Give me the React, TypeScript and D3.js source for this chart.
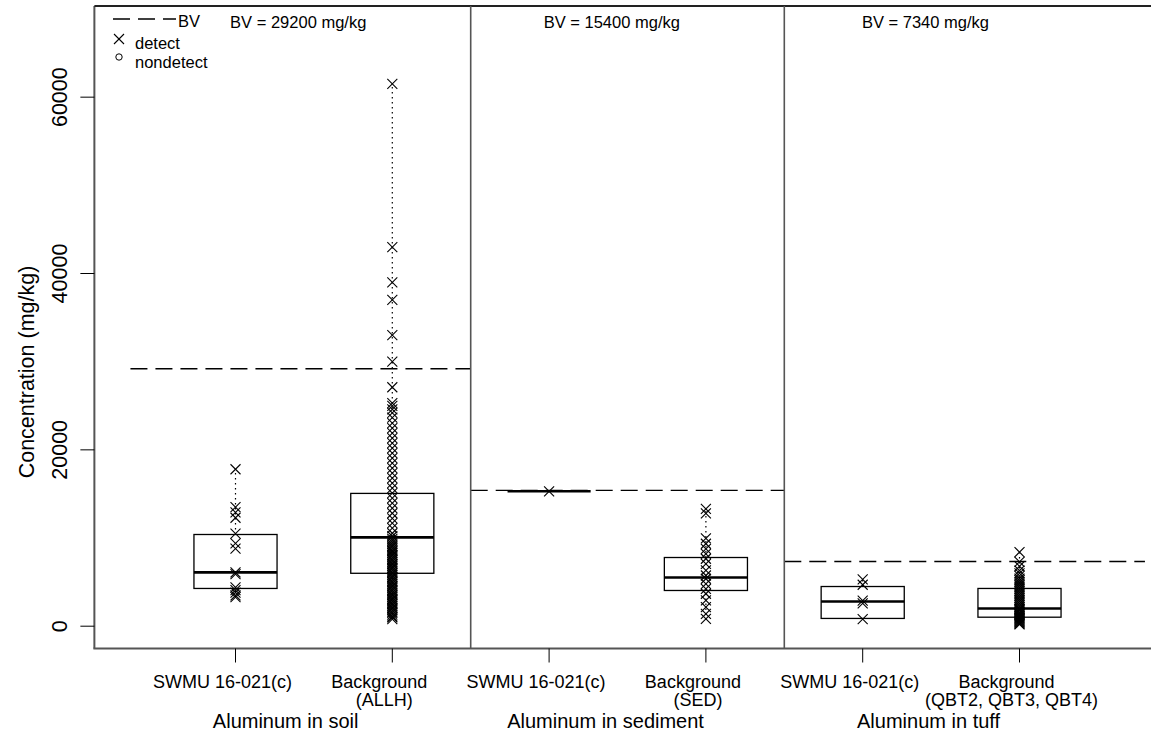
import React from "react";
import * as d3 from "d3";

const groups = ["Aluminum in soil", "Aluminum in sediment", "Aluminum in tuff"];
const bvValues = [29200, 15400, 7340];
const bvTexts = ["BV = 29200 mg/kg", "BV = 15400 mg/kg", "BV = 7340 mg/kg"];
const catLine1 = ["SWMU 16-021(c)", "Background", "SWMU 16-021(c)", "Background", "SWMU 16-021(c)", "Background"];
const catLine2 = ["", "(ALLH)", "", "(SED)", "", "(QBT2, QBT3, QBT4)"];
const yTicks = [0, 20000, 40000, 60000];

// box stats: [lower whisker, Q1, median, Q3, upper whisker]
const boxStats = [
  [3300, 4280, 6100, 10400, 17800],
  [800, 6000, 10070, 15060, 61500],
  [15300, 15300, 15300, 15300, 15300],
  [700, 4050, 5530, 7790, 13300],
  [800, 880, 2800, 4500, 5300],
  [200, 1020, 2010, 4280, 8400],
];

const soilSite = [17800, 13500, 12900, 12300, 10500, 9400, 8800, 6100, 5900, 4400, 4100, 3800, 3500, 3300];
const soilBg = [61500, 43000, 39000, 37000, 33000, 30000, 27100, 25300, 25000, 24600, 24200,
  23650, 23040, 22470, 21900, 21340, 20770, 20200, 19630, 19060, 18500, 17930, 17360, 16790, 16220,
  15660, 15090, 14520, 13950, 13380, 12810, 12240, 11680, 11110, 10540,
  10200, 9900, 9700, 9500, 9300, 9100, 9000, 8800, 8600, 8500, 8300, 8100, 8000, 7800, 7600, 7500,
  7300, 7100, 7000, 6800, 6600, 6500, 6300, 6100, 6000, 5800, 5600, 5500, 5300, 5100, 5000, 4800,
  4600, 4500, 4300, 4100, 4000, 3800, 3600, 3500, 3300, 3100, 3000, 2800, 2600, 2500, 2300, 2100,
  2000, 1800, 1600, 1500, 1300, 1100, 1000, 800];
const sedSite = [15300];
const sedBg = [13300, 12800, 9950, 9350, 8780, 8210, 7650, 7080, 6320, 5750, 5380, 4810, 4240, 3680,
  2920, 2160, 1400, 840];
const tuffSite = [5300, 4700, 2900, 2600, 800];
const tuffBg = [8400, 7300, 6800, 6300, 6000, 5700, 5400, 5200, 5000, 4800, 4600, 4400, 4200, 4000,
  3800, 3600, 3400, 3200, 3000, 2800, 2600, 2400, 2200, 2000, 1900, 1800, 1600, 1500, 1400, 1300,
  1200, 1100, 1000, 900, 800, 700, 600, 500, 400, 300, 200];
const detects = [soilSite, soilBg, sedSite, sedBg, tuffSite, tuffBg];

const FONT = "'Liberation Sans', Arial, Helvetica, sans-serif";

export default function App() {
  const W = 1151, H = 738;
  const x = d3.scaleLinear().domain([1, 6]).range([235.5, 1019.5]);
  const y = d3.scaleLinear().domain([-2530, 70340]).range([648.5, 6]);
  const left = x(0.1), top = y(70340), bottom = y(-2530), right = x(7.2);
  const half = 0.265;
  const bvSpans = [[0.33, 2.5], [2.5, 4.5], [4.5, 6.8]];
  const textPos = [1.4, 3.4, 5.4];
  const groupPos = [1.32, 3.36, 5.42];
  const X = (cx: number, cy: number, k: string) => (
    <g key={k} stroke="#000" strokeWidth={1.1}>
      <line x1={cx - 5} y1={cy - 5} x2={cx + 5} y2={cy + 5} />
      <line x1={cx - 5} y1={cy + 5} x2={cx + 5} y2={cy - 5} />
    </g>
  );
  return (
    <svg width={W} height={H} style={{ position: "absolute", left: 0, top: 0 }} fontFamily={FONT}>
      <rect x={0} y={0} width={W} height={H} fill="#fff" />
      {bvValues.map((v, i) => (
        <line key={"bv" + i} x1={x(bvSpans[i][0])} x2={x(bvSpans[i][1])} y1={y(v)} y2={y(v)}
          stroke="#000" strokeWidth={1.3} strokeDasharray="17 8" />
      ))}
      {boxStats.map((s, i) => {
        const cx = x(i + 1);
        return (
          <g key={"b" + i}>
            <line x1={cx} x2={cx} y1={y(s[3])} y2={y(s[4])} stroke="#000" strokeWidth={1.2} strokeDasharray="1.5 3.5" />
            <line x1={cx} x2={cx} y1={y(s[0])} y2={y(s[1])} stroke="#000" strokeWidth={1.2} strokeDasharray="1.5 3.5" />
            <rect x={x(i + 1 - half)} width={x(i + 1 + half) - x(i + 1 - half)} y={y(s[3])} height={Math.max(0, y(s[1]) - y(s[3]))}
              fill="none" stroke="#000" strokeWidth={1.3} />
            <line x1={x(i + 1 - half)} x2={x(i + 1 + half)} y1={y(s[2])} y2={y(s[2])} stroke="#000" strokeWidth={2.6} />
          </g>
        );
      })}
      {detects.map((arr, i) => arr.map((v, j) => X(x(i + 1), y(v), `p${i}-${j}`)))}
      <line x1={left} x2={left} y1={top} y2={bottom} stroke="#555" strokeWidth={2} />
      <line x1={left} x2={right} y1={top} y2={top} stroke="#222" strokeWidth={2} />
      <line x1={left - 1} x2={right} y1={bottom} y2={bottom} stroke="#555" strokeWidth={2} />
      {[2.5, 4.5].map((d) => (
        <line key={"d" + d} x1={x(d)} x2={x(d)} y1={top} y2={bottom} stroke="#555" strokeWidth={1.6} />
      ))}
      {yTicks.map((t) => (
        <g key={"yt" + t}>
          <line x1={left - 14} x2={left} y1={y(t)} y2={y(t)} stroke="#000" strokeWidth={1} />
          <text transform={`translate(${left - 34},${y(t)}) rotate(-90)`} textAnchor="middle" dominantBaseline="central"
            fontSize={21.5} fill="#000">{t}</text>
        </g>
      ))}
      <text transform={`translate(27,372) rotate(-90)`} textAnchor="middle" dominantBaseline="central" fontSize={21.5} fill="#000">
        Concentration (mg/kg)
      </text>
      {catLine1.map((c, i) => (
        <g key={"xt" + i}>
          <line x1={x(i + 1)} x2={x(i + 1)} y1={bottom} y2={bottom + 14} stroke="#000" strokeWidth={1} />
          <text x={x(i + 1) - 13} y={682} textAnchor="middle" dominantBaseline="central" fontSize={18}>{c}</text>
          {catLine2[i] && (
            <text x={x(i + 1) - 8} y={700} textAnchor="middle" dominantBaseline="central" fontSize={18}>{catLine2[i]}</text>
          )}
        </g>
      ))}
      {groups.map((g, i) => (
        <text key={"g" + i} x={x(groupPos[i])} y={721} textAnchor="middle" dominantBaseline="central" fontSize={20}>{g}</text>
      ))}
      {bvTexts.map((t, i) => (
        <text key={"bt" + i} x={x(textPos[i])} y={22} textAnchor="middle" dominantBaseline="central" fontSize={16.5}>{t}</text>
      ))}
      <line x1={113} x2={176} y1={19} y2={19} stroke="#000" strokeWidth={1.3} strokeDasharray="17 8" />
      <text x={178} y={21} dominantBaseline="central" fontSize={16.5}>BV</text>
      {X(119, 39, "legx")}
      <text x={135} y={43} dominantBaseline="central" fontSize={16.5}>detect</text>
      <circle cx={119} cy={57} r={3.2} fill="none" stroke="#000" strokeWidth={1} />
      <text x={135} y={62} dominantBaseline="central" fontSize={16.5}>nondetect</text>
    </svg>
  );
}
